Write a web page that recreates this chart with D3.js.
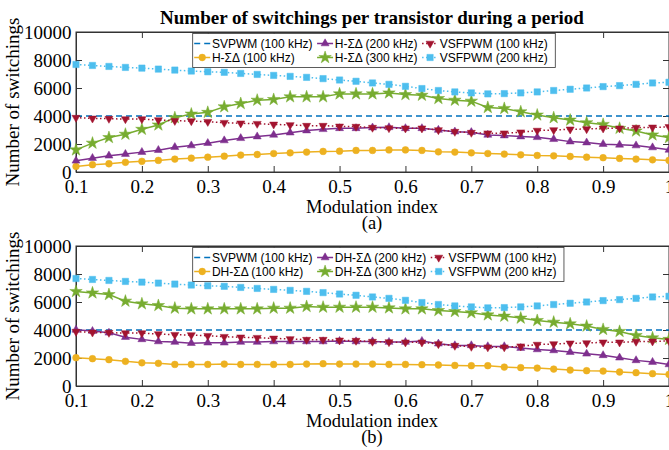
<!DOCTYPE html>
<html>
<head>
<meta charset="utf-8">
<script src="https://cdn.jsdelivr.net/npm/d3@7"></script>
<style>
body { margin: 0; background: #fff; }
</style>
</head>
<body>
<script>
var width = 669,
    height = 450;

// modulation index samples (x) and switching counts (y)
var modIndex = [0.1, 0.125, 0.15, 0.175, 0.2, 0.225, 0.25, 0.275, 0.3, 0.325, 0.35, 0.375,
    0.4, 0.425, 0.45, 0.475, 0.5, 0.525, 0.55, 0.575, 0.6, 0.625, 0.65, 0.675, 0.7, 0.725,
    0.75, 0.775, 0.8, 0.825, 0.85, 0.875, 0.9, 0.925, 0.95, 0.975, 1.0];

var svpwmX = [0.1, 1.0],
    svpwm100 = [4000, 4000];

var vsfpwm100 = [3880, 3830, 3810, 3780, 3780, 3710, 3660, 3640, 3590, 3520, 3480, 3450, 3400,
    3360, 3310, 3310, 3260, 3240, 3170, 3140, 3120, 3120, 3000, 2880, 2810, 2770, 2770, 2840,
    2960, 3000, 3050, 3070, 3120, 3120, 3170, 3190, 3220];
var vsfpwm200 = [7680, 7610, 7540, 7470, 7420, 7350, 7280, 7210, 7160, 7120, 7040, 6970, 6900,
    6830, 6760, 6670, 6570, 6480, 6360, 6260, 6120, 5960, 5820, 5720, 5650, 5580, 5600, 5650,
    5720, 5820, 5910, 6000, 6100, 6170, 6260, 6360, 6410];

var hsd100 = [400, 520, 590, 690, 760, 830, 920, 990, 1060, 1130, 1210, 1250, 1320, 1370, 1420,
    1470, 1490, 1540, 1540, 1580, 1580, 1540, 1440, 1420, 1370, 1320, 1280, 1230, 1180, 1160,
    1110, 1060, 1020, 970, 920, 870, 830];
var hsd200 = [800, 990, 1160, 1280, 1420, 1560, 1770, 1890, 2060, 2250, 2410, 2530, 2650, 2810,
    2960, 3050, 3120, 3120, 3170, 3190, 3120, 3120, 3000, 2880, 2840, 2650, 2600, 2530, 2480,
    2340, 2170, 2100, 1990, 1940, 1890, 1750, 1580];
var hsd300 = [1580, 2060, 2460, 2700, 3050, 3360, 3880, 4140, 4260, 4660, 4890, 5130, 5180, 5370,
    5370, 5370, 5580, 5580, 5580, 5650, 5530, 5480, 5250, 5130, 5060, 4610, 4540, 4300, 4070,
    3880, 3710, 3520, 3400, 3120, 2930, 2650, 2460];

var dhsd100 = [2020, 1950, 1880, 1760, 1660, 1620, 1540, 1540, 1540, 1570, 1540, 1540, 1540, 1540,
    1570, 1590, 1570, 1570, 1570, 1540, 1540, 1520, 1500, 1470, 1450, 1450, 1350, 1310, 1280,
    1210, 1140, 1090, 1070, 1000, 950, 880, 830];
var dhsd200 = [4010, 3920, 3800, 3490, 3330, 3180, 3140, 3060, 3090, 3090, 3140, 3140, 3180, 3180,
    3180, 3180, 3210, 3180, 3180, 3140, 3140, 3210, 3020, 2900, 2900, 2830, 2830, 2710, 2610,
    2540, 2420, 2300, 2190, 2020, 1830, 1710, 1540];
var dhsd300 = [6750, 6650, 6530, 6060, 5870, 5750, 5560, 5510, 5510, 5510, 5510, 5510, 5560, 5560,
    5680, 5630, 5630, 5630, 5630, 5580, 5510, 5510, 5390, 5320, 5230, 5080, 4990, 4850, 4680,
    4560, 4440, 4280, 4040, 3900, 3610, 3440, 3330];

var xTicks = [0.1, 0.2, 0.3, 0.4, 0.5, 0.6, 0.7, 0.8, 0.9, 1.0],
    xTickLabels = ["0.1", "0.2", "0.3", "0.4", "0.5", "0.6", "0.7", "0.8", "0.9", "1"],
    yTicks = [0, 2000, 4000, 6000, 8000, 10000],
    yTickLabels = ["0", "2000", "4000", "6000", "8000", "10000"];

var topNames = ["SVPWM (100 kHz)", "H-ΣΔ (100 kHz)", "H-ΣΔ (200 kHz)", "H-ΣΔ (300 kHz)",
    "VSFPWM (100 kHz)", "VSFPWM (200 kHz)"];
var bottomNames = ["SVPWM (100 kHz)", "DH-ΣΔ (100 kHz)", "DH-ΣΔ (200 kHz)", "DH-ΣΔ (300 kHz)",
    "VSFPWM (100 kHz)", "VSFPWM (200 kHz)"];

var serif = "'Liberation Serif', 'Times New Roman', serif",
    sans = "'Liberation Sans', Arial, Helvetica, sans-serif";

// matlab default colour order and styles, one per legend entry
var styles = [
    {color: "#0072BD", dash: "6,4", marker: null},
    {color: "#EDB120", dash: null, marker: "circle"},
    {color: "#7E2F8E", dash: null, marker: "up"},
    {color: "#77AC30", dash: null, marker: "star"},
    {color: "#A2142F", dash: "1.5,2.5", marker: "down"},
    {color: "#4DBEEE", dash: "1.5,2.5", marker: "square"}
];

var svg = d3.select("body").append("svg")
    .attr("width", width)
    .attr("height", height)
    .style("background", "#fff");

var x = d3.scaleLinear().domain([0.1, 1]).range([76, 669]);

svg.append("text")
    .attr("x", 372)
    .attr("y", 24)
    .attr("text-anchor", "middle")
    .style("font-family", serif)
    .style("font-weight", "bold")
    .style("font-size", "19px")
    .text("Number of switchings per transistor during a period");

drawPanel({
    top: 32, bottom: 172, caption: "(a)", names: topNames,
    series: [
        {xs: svpwmX, ys: svpwm100},
        {xs: modIndex, ys: hsd100},
        {xs: modIndex, ys: hsd200},
        {xs: modIndex, ys: hsd300},
        {xs: modIndex, ys: vsfpwm100},
        {xs: modIndex, ys: vsfpwm200}
    ]
});

drawPanel({
    top: 246, bottom: 386, caption: "(b)", names: bottomNames,
    series: [
        {xs: svpwmX, ys: svpwm100},
        {xs: modIndex, ys: dhsd100},
        {xs: modIndex, ys: dhsd200},
        {xs: modIndex, ys: dhsd300},
        {xs: modIndex, ys: vsfpwm100},
        {xs: modIndex, ys: vsfpwm200}
    ]
});

function markerPath(kind) {
    if (kind === "circle") return d3.symbol(d3.symbolCircle, 36)();
    if (kind === "square") return d3.symbol(d3.symbolSquare, 40)();
    if (kind === "star") return d3.symbol(d3.symbolStar, 48)();
    return d3.symbol(d3.symbolTriangle, 28)();
}

function drawMarkers(g, pts, st) {
    g.selectAll(null)
        .data(pts)
        .enter().append("path")
        .attr("d", markerPath(st.marker))
        .attr("transform", function(d) {
            return "translate(" + d + ")" + (st.marker === "down" ? " rotate(180)" : "");
        })
        .attr("fill", st.color)
        .attr("stroke", st.color)
        .attr("stroke-width", 0.5);
}

function drawPanel(p) {
    var y = d3.scaleLinear().domain([0, 10000]).range([p.bottom, p.top]);
    var g = svg.append("g");

    // box
    g.append("rect")
        .attr("x", x(0.1))
        .attr("y", p.top)
        .attr("width", x(1) - x(0.1))
        .attr("height", p.bottom - p.top)
        .attr("fill", "none")
        .attr("stroke", "#333")
        .attr("stroke-width", 1);

    var xAxis = g.append("g")
        .attr("transform", "translate(0," + p.bottom + ")")
        .call(d3.axisBottom(x).tickValues(xTicks)
            .tickFormat(function(d, i) { return xTickLabels[i]; })
            .tickSizeInner(-6).tickSizeOuter(0).tickPadding(7.5));
    g.append("g")
        .attr("transform", "translate(0," + p.top + ")")
        .call(d3.axisTop(x).tickValues(xTicks).tickFormat("").tickSizeInner(-6).tickSizeOuter(0));
    var yAxis = g.append("g")
        .attr("transform", "translate(" + x(0.1) + ",0)")
        .call(d3.axisLeft(y).tickValues(yTicks)
            .tickFormat(function(d, i) { return yTickLabels[i]; })
            .tickSizeInner(-6).tickSizeOuter(0).tickPadding(4.5));
    g.append("g")
        .attr("transform", "translate(" + x(1) + ",0)")
        .call(d3.axisRight(y).tickValues(yTicks).tickFormat("").tickSizeInner(-6).tickSizeOuter(0));

    g.selectAll(".domain").attr("stroke", "#333");
    g.selectAll(".tick line").attr("stroke", "#333");
    g.selectAll(".tick text")
        .attr("fill", "#000")
        .style("font-family", serif)
        .style("font-size", "19px");

    g.append("text")
        .attr("transform", "translate(19," + (p.top + p.bottom) / 2 + ") rotate(-90)")
        .attr("text-anchor", "middle")
        .style("font-family", serif)
        .style("font-size", "19px")
        .text("Number of switchings");

    g.append("text")
        .attr("x", 372)
        .attr("y", p.bottom + 40.5)
        .attr("text-anchor", "middle")
        .style("font-family", serif)
        .style("font-size", "18.5px")
        .text("Modulation index");

    g.append("text")
        .attr("x", 372)
        .attr("y", p.bottom + 57)
        .attr("text-anchor", "middle")
        .style("font-family", serif)
        .style("font-size", "18.5px")
        .text(p.caption);

    // curves
    var line = d3.line();
    p.series.forEach(function(s, i) {
        var st = styles[i];
        var pts = s.xs.map(function(v, j) { return [x(v), y(s.ys[j])]; });
        g.append("path")
            .attr("d", line(pts))
            .attr("fill", "none")
            .attr("stroke", st.color)
            .attr("stroke-width", 1.5)
            .attr("stroke-dasharray", st.dash);
        if (st.marker) drawMarkers(g, pts, st);
    });

    // legend, 3 columns x 2 rows, column-major
    var lg = g.append("g");
    var box = lg.append("rect")
        .attr("fill", "#fff")
        .attr("stroke", "#333")
        .attr("stroke-width", 0.8);

    var left = 192.7, top = p.top + 1.5, colX = left + 1.5, maxRight = 0;
    for (var c = 0; c < 3; c++) {
        var colW = 0;
        for (var r = 0; r < 2; r++) {
            var k = c * 2 + r, st = styles[k], ry = top + 10 + r * 14;
            lg.append("line")
                .attr("x1", colX).attr("x2", colX + 16)
                .attr("y1", ry).attr("y2", ry)
                .attr("stroke", st.color)
                .attr("stroke-width", 1.5)
                .attr("stroke-dasharray", st.dash);
            if (st.marker) drawMarkers(lg, [[colX + 8, ry]], st);
            var t = lg.append("text")
                .attr("x", colX + 17.7)
                .attr("y", ry + 4.3)
                .style("font-family", sans)
                .style("font-size", "12px")
                .attr("fill", "#000")
                .text(p.names[k]);
            colW = Math.max(colW, t.node().getComputedTextLength());
        }
        maxRight = colX + 17.7 + colW;
        colX = maxRight + 4.5;
    }
    box.attr("x", left).attr("y", top)
        .attr("width", maxRight + 7.5 - left)
        .attr("height", 34);
}
</script>
</body>
</html>
